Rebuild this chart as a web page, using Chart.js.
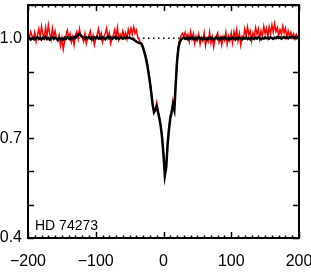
<!DOCTYPE html>
<html><head><meta charset="utf-8">
<script src="https://cdn.jsdelivr.net/npm/chart.js@4.4.1/dist/chart.umd.min.js"></script>
<style>html,body{margin:0;padding:0;background:#fff;}#wrap{width:311px;height:273px;}</style>
</head><body><div id="wrap"><canvas id="c" width="311" height="273"></canvas></div>
<script>
const velocity = [-200,-198,-196,-194,-192,-190,-188,-186,-184,-182,-180,-178,-176,-174,-172,-170,-168,-166,-164,-162,-160,-158,-156,-154,-152,-150,-148,-146,-144,-142,-140,-138,-136,-134,-132,-130,-128,-126,-124,-122,-120,-118,-116,-114,-112,-110,-108,-106,-104,-102,-100,-98,-96,-94,-92,-90,-88,-86,-84,-82,-80,-78,-76,-74,-72,-70,-68,-66,-64,-62,-60,-58,-56,-54,-52,-50,-48,-46,-44,-42,-40,-38,-36,-34,-32,-30,-28,-26,-24,-22,-20,-18,-16,-14,-12,-10,-8,-6,-4,-2,0,2,4,6,8,10,12,14,16,18,20,22,24,26,28,30,32,34,36,38,40,42,44,46,48,50,52,54,56,58,60,62,64,66,68,70,72,74,76,78,80,82,84,86,88,90,92,94,96,98,100,102,104,106,108,110,112,114,116,118,120,122,124,126,128,130,132,134,136,138,140,142,144,146,148,150,152,154,156,158,160,162,164,166,168,170,172,174,176,178,180,182,184,186,188,190,192,194,196,198,200];
const observedFlux = [1.014,1.002,1.020,1.006,0.998,1.018,0.990,1.010,1.028,1.004,1.036,1.012,1.000,1.032,1.006,1.040,1.014,0.996,1.030,1.006,1.022,1.000,0.992,1.010,0.978,1.000,0.966,0.990,1.008,1.024,1.002,1.014,0.988,1.004,0.980,1.010,1.020,0.998,1.028,1.006,1.002,0.990,1.014,0.984,1.000,1.010,1.022,0.994,1.008,0.980,0.998,1.010,1.028,1.004,1.016,0.988,1.004,1.014,1.030,1.002,1.016,0.984,1.000,1.010,1.026,1.004,1.032,0.996,1.012,1.002,1.022,1.004,1.016,0.998,1.026,
1.010,1.030,1.012,1.034,1.015,1.025,1.002,0.995,0.988,0.985,0.975,0.962,0.945,0.928,0.900,0.872,0.840,0.805,0.785,0.790,0.808,0.782,0.762,0.738,0.702,0.652,0.592,0.615,0.684,0.728,0.765,0.785,0.815,0.792,0.868,0.938,0.978,0.996,1.008,1.015,1.005,
1.018,1.002,1.012,0.990,1.020,0.998,1.014,0.984,1.006,0.994,1.012,0.982,1.002,0.992,1.016,0.978,1.000,0.990,1.018,0.986,1.004,0.974,0.996,1.006,1.016,0.988,1.002,0.980,1.006,0.994,1.018,0.982,1.006,0.992,1.016,0.986,1.020,1.000,1.026,0.992,1.014,0.980,1.006,1.000,1.028,1.008,1.034,1.010,1.022,0.992,1.016,1.004,1.032,1.012,1.028,0.998,1.022,1.008,1.036,1.014,1.030,1.004,1.034,1.014,1.040,1.018,1.044,1.020,1.032,1.008,1.026,1.012,1.036,1.016,1.030,1.004,1.022,1.006,1.018,1.002,1.014,0.998,1.012,1.002,1.010];
const modelFlux = [0.998,1.001,0.996,0.999,1.002,0.997,1.000,1.003,0.998,1.001,0.997,1.002,0.999,1.004,0.998,1.001,0.996,1.000,1.003,0.998,1.002,0.999,0.995,1.001,0.997,1.000,0.996,1.002,0.998,1.003,1.000,0.997,1.002,0.999,1.004,1.001,1.006,1.010,1.014,1.008,1.005,1.002,0.998,1.003,1.000,1.004,0.999,1.002,0.997,1.003,1.000,1.004,0.999,1.002,0.998,1.003,1.000,0.997,1.002,1.005,1.000,1.003,0.998,1.001,1.004,0.999,1.002,0.998,1.001,1.003,0.999,1.002,1.000,1.003,1.001,
1.002,1.000,0.998,0.996,0.993,0.990,0.988,0.986,0.984,0.981,0.970,0.956,0.940,0.920,0.895,0.867,0.835,0.800,0.778,0.785,0.795,0.778,0.758,0.735,0.700,0.650,0.588,0.612,0.680,0.725,0.760,0.778,0.800,0.785,0.860,0.930,0.970,0.988,0.996,1.000,1.002,
0.998,1.001,0.997,1.002,0.999,1.003,0.998,1.001,0.996,1.000,1.003,0.998,1.001,0.997,1.002,0.999,0.996,1.001,0.998,1.002,0.999,0.995,1.000,1.003,0.998,1.001,0.997,1.002,0.999,1.003,0.998,1.000,0.996,1.001,0.998,1.002,0.999,0.996,1.001,0.998,1.002,1.000,0.997,1.001,0.999,1.003,0.998,1.001,0.997,1.002,1.000,0.998,1.002,0.999,1.003,1.000,0.997,1.001,0.999,1.003,1.000,1.002,0.999,1.003,1.001,0.998,1.002,1.000,1.004,1.001,1.003,0.999,1.002,1.004,1.001,1.003,1.000,1.004,1.002,1.005,1.002,1.004,1.001,1.003,1.002];
const continuumRange = [-200, 200];
const continuumLevel = 1.0;
const xTicks = [-200, -100, 0, 100, 200];
const yTicks = [0.4, 0.7, 1.0];
const starName = "HD 74273";

const toXY = (xs, ys) => xs.map((x, i) => ({x: x, y: ys[i]}));
const FONT = "'Liberation Sans', Arial, sans-serif";

const framePlugin = {
  id: 'frame',
  afterDatasetsDraw(chart) {
    const {ctx, chartArea: a, scales: {x, y}} = chart;
    ctx.save();
    ctx.strokeStyle = '#000';
    ctx.lineWidth = 1.5;
    ctx.beginPath();
    for (let v = -200; v <= 200; v += 10) {
      const px = Math.round(x.getPixelForValue(v)) + 0.5;
      const len = (v % 100 === 0) ? 6 : 2.5;
      ctx.moveTo(px, a.bottom); ctx.lineTo(px, a.bottom - len);
      ctx.moveTo(px, a.top); ctx.lineTo(px, a.top + len);
    }
    for (let k = 4; k <= 11; k++) {
      const py = Math.round(y.getPixelForValue(k / 10)) + 0.5;
      ctx.moveTo(a.left, py); ctx.lineTo(a.left + 6, py);
      ctx.moveTo(a.right, py); ctx.lineTo(a.right - 6, py);
    }
    ctx.stroke();
    ctx.lineWidth = 2;
    ctx.strokeRect(a.left, a.top, a.right - a.left, a.bottom - a.top);
    ctx.fillStyle = '#000';
    ctx.font = "14px " + FONT;
    ctx.textBaseline = 'alphabetic';
    ctx.textAlign = 'left';
    ctx.fillText(starName, a.left + 7, a.bottom - 8);
    ctx.restore();
  }
};

new Chart(document.getElementById('c'), {
  type: 'line',
  data: {
    datasets: [
      {data: toXY(velocity, modelFlux), borderColor: '#000', borderWidth: 2.5, pointRadius: 0, tension: 0, order: 0},
      {data: toXY(velocity, observedFlux), borderColor: '#ff0000', borderWidth: 1.5, pointRadius: 0, tension: 0, order: 1},
      {data: toXY(continuumRange, [continuumLevel, continuumLevel]), borderColor: '#000', borderWidth: 1.5, borderDash: [1.5, 3.5], pointRadius: 0, order: 2}
    ]
  },
  options: {
    responsive: false, animation: false, devicePixelRatio: 1,
    layout: {padding: {top: 5, right: 12, left: 0, bottom: 0}},
    plugins: {legend: {display: false}, tooltip: {enabled: false}},
    scales: {
      x: {
        type: 'linear', min: -200, max: 200,
        afterBuildTicks: s => { s.ticks = xTicks.map(v => ({value: v})); },
        ticks: {color: '#000', font: {size: 16, family: FONT}, padding: 14, maxRotation: 0,
          callback: v => (v < 0 ? '\u2212' + Math.abs(v) : String(v))},
        grid: {display: false, drawTicks: false}, border: {display: false},
        afterFit: s => { s.height = 35; s.paddingLeft = 0; s.paddingRight = 0; }
      },
      y: {
        type: 'linear', min: 0.4, max: 1.1,
        afterBuildTicks: s => { s.ticks = yTicks.map(v => ({value: v})); },
        ticks: {color: '#000', font: {size: 16, family: FONT}, padding: 6,
          callback: v => v.toFixed(1)},
        grid: {display: false, drawTicks: false}, border: {display: false},
        afterFit: s => { s.width = 28; s.paddingTop = 0; s.paddingBottom = 0; }
      }
    }
  },
  plugins: [framePlugin]
});
</script></body></html>
